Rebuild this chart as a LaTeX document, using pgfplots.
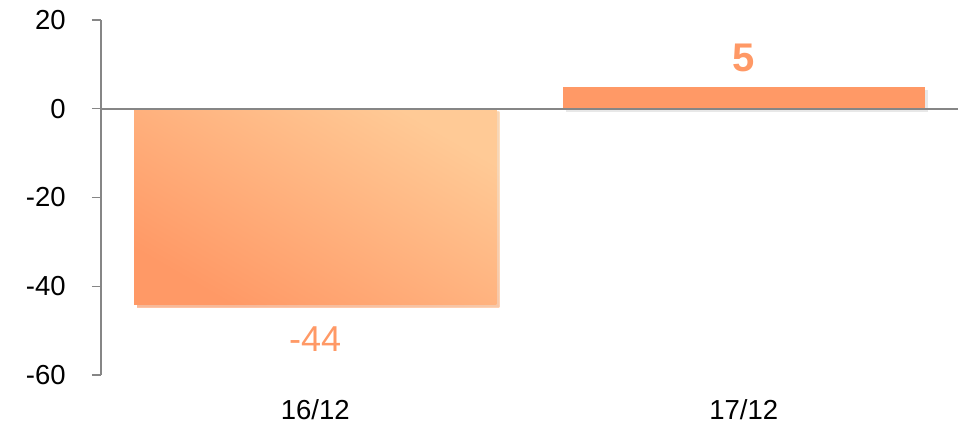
\documentclass[border=0pt]{standalone}
\usepackage{fontspec}
\setmainfont{Liberation Sans}
\usepackage{pgfplots}
\pgfplotsset{compat=1.18}
\usetikzlibrary{shadows}
\definecolor{barorange}{RGB}{255,153,102}
\definecolor{barlight}{RGB}{255,202,150}
\definecolor{axisgray}{RGB}{134,134,134}
\newcommand{\tickfont}{\fontsize{27.5bp}{31bp}\selectfont}
\begin{document}
\tickfont
\begin{tikzpicture}
\begin{axis}[
    scale only axis,
    width=857bp, height=355bp,
    xmin=-0.5, xmax=1.5,
    ymin=-60, ymax=20,
    xtick={0,1}, xticklabels={16/12,17/12},
    ytick={-60,-40,-20,0,20}, yticklabels={-60,-40,-20,0,20},
    axis y line*=left, axis x line*=bottom,
    x axis line style={draw=none},
    y axis line style={axisgray, line width=1.2bp},
    xtick style={draw=none},
    ytick style={axisgray, line width=1.2bp},
    tick align=outside, major tick length=9bp,
    yticklabel style={xshift=-17bp},
    xticklabel style={yshift=-6bp},
    tick label style={font=\tickfont},
    clip=false,
]
\addplot[ybar, bar width=362bp, bar shift=0pt, draw=none,
    shading=axis, bottom color=barorange, top color=barlight, shading angle=-30,
    drop shadow={shadow xshift=3bp, shadow yshift=-3bp, fill=black!15, opacity=0.6},
    nodes near coords={\fontsize{36bp}{40bp}\selectfont -44},
    nodes near coords style={text=barorange, yshift=-13bp}]
    coordinates {(0,-44)};
\addplot[ybar, bar width=362bp, bar shift=0pt, draw=none, fill=barorange,
    drop shadow={shadow xshift=3bp, shadow yshift=-3bp, fill=black!15, opacity=0.6},
    nodes near coords={\fontsize{40bp}{44bp}\selectfont\bfseries 5},
    nodes near coords style={text=barorange, yshift=5bp}]
    coordinates {(1,5)};
\draw[axisgray, line width=1.5bp] (axis cs:-0.5,0) -- (axis cs:1.5,0);
\end{axis}
\pgfresetboundingbox
\path (-101bp,-50bp) rectangle (857bp,375bp);
\end{tikzpicture}
\end{document}
